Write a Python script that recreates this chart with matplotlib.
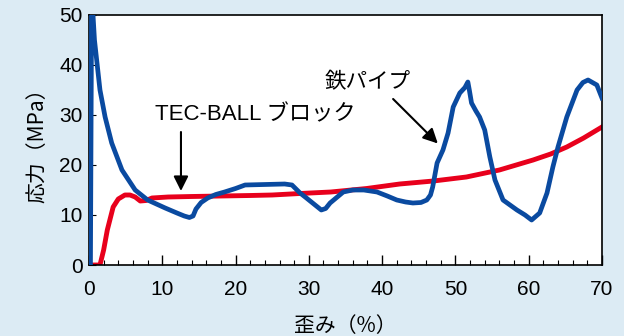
import matplotlib.pyplot as plt
from matplotlib.ticker import MultipleLocator

# ------------------------------------------------------------
# Stress-strain curves: TEC-BALL block vs. steel pipe
# ------------------------------------------------------------

# steel pipe (blue)
pipe_strain = [0.2, 0.35, 0.55, 0.75, 1.05, 1.5, 2.2, 3.1, 4.5, 6.3, 8.0, 10.4,
               12.0, 13.0, 13.7, 14.2, 14.6, 15.3, 16.2, 17.3, 18.5, 20.0, 21.3,
               24.0, 26.7, 27.7, 28.8, 29.5, 30.6, 31.7, 32.3, 32.9, 33.8, 34.7,
               36.0, 37.5, 39.3, 40.7, 42.0, 43.2, 44.2, 45.3, 46.1, 46.6, 46.9,
               47.2, 47.5, 48.3, 49.0, 49.7, 50.6, 51.3, 51.7, 51.9, 52.2, 52.8,
               53.3, 54.0, 54.7, 55.4, 56.5, 58.4, 59.5, 60.4, 61.5, 62.5, 63.3,
               64.0, 65.2, 66.6, 67.4, 68.1, 69.3, 70.0]
pipe_stress = [0, 50, 50, 45, 41, 35, 29.6, 24.4, 19, 15, 13, 11.4,
               10.4, 9.8, 9.5, 9.8, 11.2, 12.5, 13.4, 14.1, 14.6, 15.3, 16,
               16.1, 16.2, 16, 14.4, 13.6, 12.3, 11, 11.3, 12.4, 13.5, 14.6,
               15, 15, 14.6, 13.8, 13, 12.6, 12.4, 12.5, 13, 14, 15.6,
               18, 20.4, 23, 26.4, 31.6, 34.4, 35.5, 36.6, 35, 32.4, 30.8,
               29.6, 27, 21.6, 17, 13, 11, 10, 9, 10.4, 14.4, 19.6,
               23.6, 29.6, 35, 36.5, 37, 36, 33.4]

# TEC-BALL block (red)
block_strain = [0, 1.5, 2.0, 2.5, 3.3, 4.0, 4.9, 5.6, 6.3, 7.0, 7.8, 8.6, 10.8,
                14, 18, 22, 25, 28.8, 33, 37.9, 42.4, 47, 51.5, 56, 60.6,
                63, 65.2, 67.5, 70]
block_stress = [0, 0, 3, 7, 11.6, 13.2, 14, 14, 13.6, 12.8, 12.9, 13.4, 13.6,
                13.7, 13.8, 13.9, 14.0, 14.3, 14.6, 15.3, 16.2, 16.8, 17.6, 19, 21,
                22.2, 23.6, 25.4, 27.6]

bg = '#dcebf4'
blue = '#0a4aa0'
red = '#e8001c'

fig = plt.figure(figsize=(6.24, 3.36), dpi=100, facecolor=bg)
ax = fig.add_axes([0.1426, 0.2113, 0.8221, 0.7441])
ax.set_facecolor('white')

ax.plot(block_strain, block_stress, color=red, lw=3.5, solid_joinstyle='round', zorder=2)
ax.plot(pipe_strain, pipe_stress, color=blue, lw=3.4, solid_joinstyle='round', zorder=3)

ax.set_xlim(0, 70)
ax.set_ylim(0, 50)
ax.xaxis.set_major_locator(MultipleLocator(10))
ax.xaxis.set_minor_locator(MultipleLocator(2))
ax.yaxis.set_major_locator(MultipleLocator(10))

ax.tick_params(axis='x', which='major', direction='in', length=7, width=1,
               pad=10.5, labelsize=15)
ax.tick_params(axis='x', which='minor', direction='in', length=3.5, width=0.8)
ax.tick_params(axis='y', which='major', direction='in', length=5, width=0.8,
               pad=4.5, labelsize=15)
for lab in ax.get_xticklabels() + ax.get_yticklabels():
    lab.set_family('Liberation Sans')
for s in ax.spines.values():
    s.set_linewidth(1.2)

jp = ['Noto Sans CJK JP', 'DejaVu Sans']
mixed = ['Liberation Sans', 'Noto Sans CJK JP']
ax.set_xlabel('歪み（%）', family=jp, fontsize=15, labelpad=12)
ax.set_ylabel('応力（MPa）', family=jp, fontsize=15, labelpad=8)

# labels with arrows
ax.annotate('', xy=(12.55, 14.8), xytext=(12.55, 26.6),
            arrowprops=dict(arrowstyle='-|>', color='black', lw=1.5,
                            mutation_scale=22, shrinkA=0, shrinkB=0))
ax.text(9.0, 30.0, 'TEC-BALL ブロック', family=mixed, fontsize=16,
        ha='left', va='center')

ax.annotate('', xy=(47.6, 24.3), xytext=(41.5, 33.2),
            arrowprops=dict(arrowstyle='-|>', color='black', lw=1.5,
                            mutation_scale=22, shrinkA=0, shrinkB=0))
ax.text(32.2, 36.6, '鉄パイプ', family=jp, fontsize=15.5, ha='left', va='center')

fig.savefig('out.png', dpi=100, facecolor=bg)
